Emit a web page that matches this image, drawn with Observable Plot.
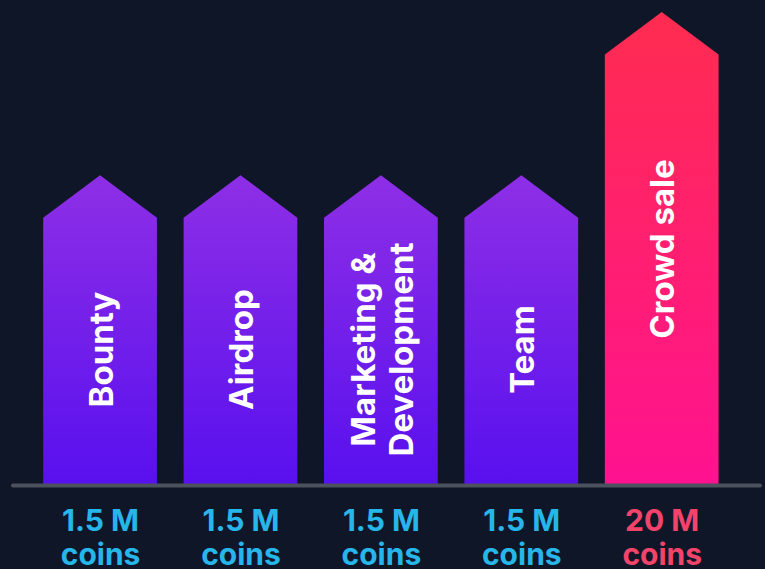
<!DOCTYPE html>
<html>
<head>
<meta charset="utf-8">
<script src="https://cdn.jsdelivr.net/npm/d3@7"></script>
<script src="https://cdn.jsdelivr.net/npm/@observablehq/plot@0.6"></script>
<style>
  html, body { margin: 0; padding: 0; background: #0f1627; }
  #chart svg { display: block; }
</style>
</head>
<body>
<div id="chart"></div>
<script>
// ---- data ----
const categories = ["Bounty", "Airdrop", "Marketing &\nDevelopment", "Team", "Crowd sale"];
const coinsMillions = [1.5, 1.5, 1.5, 1.5, 20];
// visual arrow heights as drawn in the infographic (not proportional to coins), crowd sale = 100
const arrowHeights = [65.5, 65.5, 65.5, 65.5, 100];
const unitLabel = "coins";

// ---- derived table ----
const maxCoins = d3.max(coinsMillions);
const rows = categories.map((c, i) => ({
  i, name: c, coins: coinsMillions[i], h: arrowHeights[i],
  highlight: coinsMillions[i] === maxCoins
}));

const halfW = 0.405;   // half bar width in band units
const tip = 9;         // arrow tip depth in y units

// polygon outline points for each arrow (left shoulder, tip, right shoulder)
const outline = rows.flatMap(d => [
  {name: d.name, highlight: d.highlight, x: d.i - halfW, y: d.h - tip},
  {name: d.name, highlight: d.highlight, x: d.i, y: d.h},
  {name: d.name, highlight: d.highlight, x: d.i + halfW, y: d.h - tip}
]);

const defs = () => {
  const g = document.createElementNS("http://www.w3.org/2000/svg", "g");
  g.innerHTML = `<defs>
    <linearGradient id="gPurple" x1="0" y1="0" x2="0" y2="1">
      <stop offset="0" stop-color="#8e2fe6"/>
      <stop offset="1" stop-color="#5810ee"/>
    </linearGradient>
    <linearGradient id="gPink" x1="0" y1="0" x2="0" y2="1">
      <stop offset="0" stop-color="#ff2c50"/>
      <stop offset="1" stop-color="#ff1290"/>
    </linearGradient>
  </defs>`;
  return g;
};

const font = "Inter, 'Open Sans', sans-serif";

const chart = Plot.plot({
  width: 765,
  height: 569,
  marginLeft: 13,
  marginRight: 5,
  marginTop: 12,
  marginBottom: 84,
  style: {background: "#0f1627"},
  x: {domain: [-0.62, 4.7], axis: null},
  y: {domain: [0, 100], axis: null},
  color: {type: "identity"},
  marks: [
    defs,
    Plot.areaY(outline.filter(d => !d.highlight), {x: "x", y1: 0, y2: "y", z: "name", fill: "url(#gPurple)", curve: "linear"}),
    Plot.areaY(outline.filter(d => d.highlight), {x: "x", y1: 0, y2: "y", z: "name", fill: "url(#gPink)", curve: "linear"}),
    Plot.ruleY([0], {stroke: "#4b515d", strokeWidth: 4, strokeLinecap: "round"}),
    Plot.text(rows, {
      x: "i",
      y: d => d.highlight ? d.h / 2 : d.h / 2 - 4,
      text: "name",
      rotate: -90,
      fill: "#ffffff",
      fontSize: 33,
      fontWeight: 700,
      fontFamily: font,
      lineHeight: 1.15,
      textAnchor: "middle",
      lineAnchor: "middle"
    }),
    Plot.text(rows, {
      x: "i",
      y: 0,
      text: d => `${d.coins} M\n${unitLabel}`,
      fill: d => d.highlight ? "#f2446a" : "#26b6ea",
      fontSize: 30,
      fontWeight: 700,
      fontFamily: font,
      lineHeight: 1.12,
      lineAnchor: "bottom",
      dy: 79
    })
  ]
});

document.getElementById("chart").appendChild(chart);
</script>
</body>
</html>
